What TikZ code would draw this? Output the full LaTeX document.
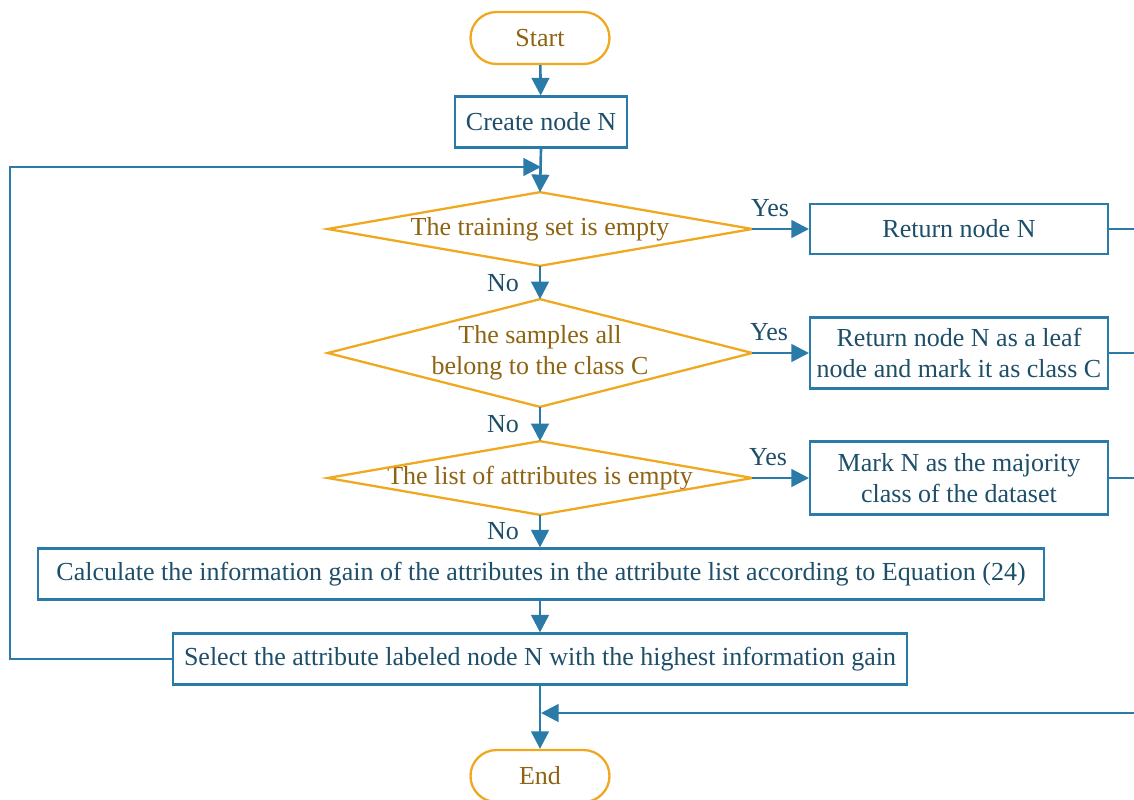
\documentclass[tikz,border=0pt]{standalone}
\usepackage{fontspec}
\setmainfont{Liberation Serif}
\usetikzlibrary{arrows.meta}
\definecolor{lineblue}{HTML}{2A7BA8}
\definecolor{txtblue}{HTML}{1E4F6A}
\definecolor{orng}{HTML}{F0A81E}
\definecolor{brwn}{HTML}{8E6412}
\tikzset{
  base/.style={font=\fontsize{14.8}{17.6}\selectfont, inner sep=0pt, align=center},
  procbox/.style={base, draw=lineblue, line width=1.2pt, text=txtblue},
  termbox/.style={base, draw=orng, line width=1.3pt, text=brwn, rounded corners=0.52cm, minimum width=2.78cm, minimum height=1.04cm},
  decbox/.style={base, text=brwn, minimum width=8.48cm},
  lbl/.style={font=\fontsize{14.8}{17.6}\selectfont, text=txtblue, inner sep=0pt},
  conn/.style={draw=lineblue, line width=1.5pt},
  arr/.style={conn, -{Triangle[length=10pt,width=10pt]}}
}
\begin{document}
\begin{tikzpicture}[x=0.02cm,y=-0.02cm]
\clip (0,0) rectangle (1134,799);
\fill[white] (0,0) rectangle (1134,799);
% nodes
\node[termbox] (start) at (540,38) {Start};
\node[procbox, minimum width=3.44cm, minimum height=1.02cm] (create) at (541,122) {Create node N};
\node[decbox, minimum height=1.46cm] (d1) at (540,229) {\raisebox{-2pt}{The training set is empty}};
\node[decbox, minimum height=2.14cm] (d2) at (540,353) {The samples all\\belong to the class C};
\node[decbox, minimum height=1.46cm] (d3) at (540,478) {\raisebox{-2pt}{The list of attributes is empty}};
\foreach \d in {d1,d2,d3}{
  \draw[orng, line width=1.3pt, line join=miter] (\d.north) -- (\d.east) -- (\d.south) -- (\d.west) -- cycle;
}
\node[procbox, minimum width=5.96cm, minimum height=1.0cm] (b1) at (959,229) {Return node N};
\node[procbox, minimum width=5.96cm, minimum height=1.42cm] (b2) at (959,353) {Return node N as a leaf\\node and mark it as class C};
\node[procbox, minimum width=5.96cm, minimum height=1.46cm] (b3) at (959,478) {Mark N as the majority\\class of the dataset};
\node[procbox, minimum width=20.14cm, minimum height=1.02cm] (calc) at (541,574) {Calculate the information gain of the attributes in the attribute list according to Equation (24)};
\node[procbox, minimum width=14.68cm, minimum height=1.02cm] (sel) at (540,659) {Select the attribute labeled node N with the highest information gain};
\node[termbox] (end) at (540,776) {End};
% coordinates
\coordinate (lb) at (10,659);
\coordinate (lt) at (10,167);
\coordinate (m1) at (541,167);
\coordinate (r1) at (1140,229);
\coordinate (r2) at (1140,353);
\coordinate (r3) at (1140,478);
\coordinate (r4) at (1140,713);
\coordinate (m2) at (541,713);
% connectors
\draw[arr] (start) -- (create);
\draw[arr] (create.south) -- (d1.north);
\draw[arr] (sel.west) -- (lb) -- (lt) -- (m1);
\draw[arr] (d1.south) -- (d2.north);
\draw[arr] (d2.south) -- (d3.north);
\draw[arr] (d3.south) -- (calc.north -| d3.south);
\draw[arr] (calc.south -| sel.north) -- (sel.north);
\draw[arr] (d1.east) -- (b1.west);
\draw[arr] (d2.east) -- (b2.west);
\draw[arr] (d3.east) -- (b3.west);
\draw[conn] (b1.east) -- (r1);
\draw[conn] (b2.east) -- (r2);
\draw[conn] (b3.east) -- (r3);
\draw[arr] (r4) -- (m2);
\draw[arr] (sel.south) -- (end.north);
% labels
\node[lbl] (y1) at (770,208) {Yes};
\node[lbl] (y2) at (769,332) {Yes};
\node[lbl] (y3) at (768,457) {Yes};
\node[lbl] (n1) at (503,283) {No};
\node[lbl] (n2) at (503,424) {No};
\node[lbl] (n3) at (503,531) {No};
\end{tikzpicture}
\end{document}
